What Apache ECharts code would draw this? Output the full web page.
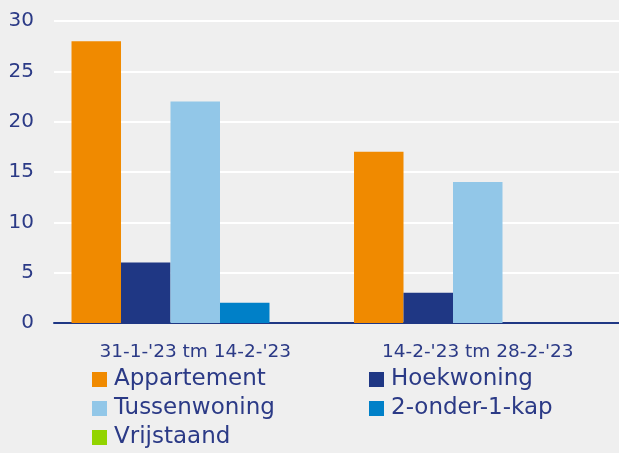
<!DOCTYPE html>
<html><head><meta charset="utf-8">
<script src="https://cdn.jsdelivr.net/npm/echarts@6/dist/echarts.min.js"></script>
<style>html,body{margin:0;padding:0;background:#efefef;}#c{width:619px;height:453px;}</style>
</head><body><div id="c"></div>
<script>
const categories = ["31-1-'23 tm 14-2-'23", "14-2-'23 tm 28-2-'23"];
const seriesNames = ["Appartement", "Hoekwoning", "Tussenwoning", "2-onder-1-kap", "Vrijstaand"];
const appartement = [28, 17];
const hoekwoning = [6, 3];
const tussenwoning = [22, 14];
const tweeOnder1Kap = [2, 0];
const vrijstaand = [0, 0];
const values = [appartement, hoekwoning, tussenwoning, tweeOnder1Kap, vrijstaand];
const colors = ['#F08A00', '#1F3784', '#92C7E8', '#0080C8', '#92D400'];
const txt = '#2B3A86';
const font = 'DejaVu Sans';

const legendText = { color: txt, fontSize: 23, fontFamily: font, lineHeight: 29, padding: [0, 0, 0, 2] };
const chart = echarts.init(document.getElementById('c'));
chart.setOption({
  backgroundColor: '#efefef',
  animation: false,
  textStyle: { fontFamily: font },
  grid: { left: 54, right: 0, top: 21, bottom: 130, containLabel: false },
  legend: [
    { data: [seriesNames[0], seriesNames[2], seriesNames[4]], orient: 'vertical', left: 87, top: 365,
      height: 200, padding: [0, 5], itemWidth: 15, itemHeight: 15, itemGap: 0, icon: 'rect',
      textStyle: legendText },
    { data: [seriesNames[1], seriesNames[3]], orient: 'vertical', left: 364, top: 365,
      height: 200, padding: [0, 5], itemWidth: 15, itemHeight: 15, itemGap: 0, icon: 'rect',
      textStyle: legendText }
  ],
  xAxis: {
    type: 'category', data: categories,
    axisLine: { lineStyle: { color: '#1F3784', width: 2 } },
    axisTick: { show: false },
    axisLabel: { color: txt, fontSize: 18.5, margin: 20, fontFamily: font }
  },
  yAxis: {
    type: 'value', min: 0, max: 30, interval: 5,
    axisLine: { show: false }, axisTick: { show: false },
    axisLabel: { color: txt, fontSize: 20, margin: 20, fontFamily: font },
    splitLine: { lineStyle: { color: '#ffffff', width: 2 } }
  },
  series: seriesNames.map((n, i) => ({
    name: n, type: 'bar', data: values[i], barGap: '0%', barCategoryGap: '12.4%',
    itemStyle: { color: colors[i] }
  }))
});
</script></body></html>
